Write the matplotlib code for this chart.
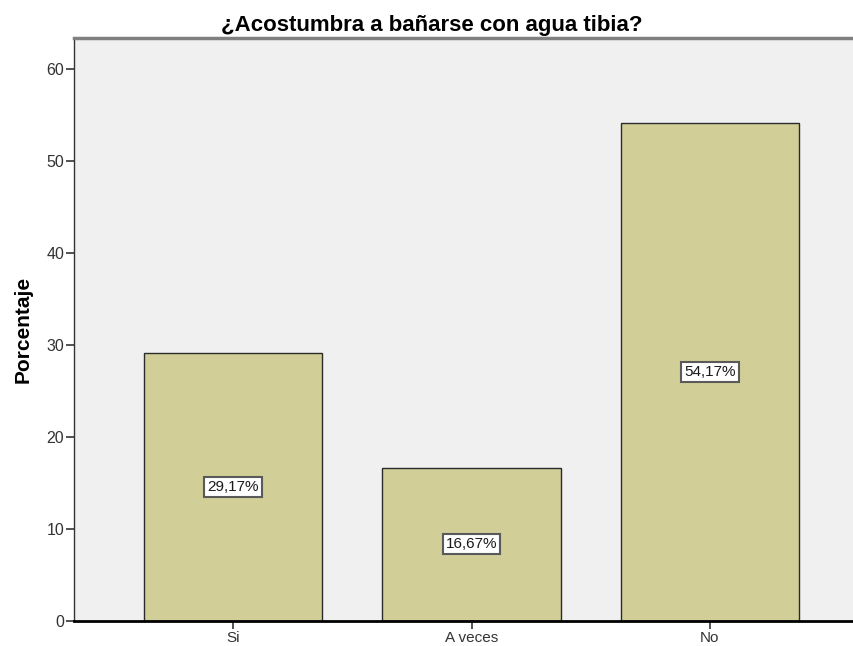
import matplotlib
matplotlib.use("Agg")
import matplotlib.pyplot as plt

categories = ["Si", "A veces", "No"]
percentages = [29.17, 16.67, 54.17]
yticks = [0, 10, 20, 30, 40, 50, 60]

plt.rcParams["font.family"] = ["Liberation Sans", "DejaVu Sans"]

fig = plt.figure(figsize=(8.54, 6.46), dpi=100)
ax = fig.add_axes([0.0867, 0.0387, 0.931, 0.9025])
ax.set_facecolor("#F0F0F0")

x = list(range(len(categories)))
ax.bar(x, percentages, width=0.748, color="#D2CE98", edgecolor="#2b2b2b",
       linewidth=1.0, zorder=2)

for xi, v in zip(x, percentages):
    ax.text(xi, v / 2, f"{v:.2f}%".replace(".", ","), ha="center", va="center",
            fontsize=11, color="#1a1a1a", zorder=4,
            bbox=dict(boxstyle="square,pad=0.2", facecolor="white",
                      edgecolor="#5a5a5a", linewidth=1.5))

ax.set_xlim(-0.668, 2.668)
ax.set_ylim(0, 63.4)
ax.set_xticks(x)
ax.set_xticklabels(categories)
ax.set_yticks(yticks)

ax.tick_params(axis="both", direction="out", length=6, width=1.2,
               labelsize=11.5, colors="#333333", labelcolor="#333333")
ax.tick_params(axis="x", pad=1, labelsize=11)
ax.tick_params(axis="y", pad=1)

ax.spines["right"].set_visible(False)
ax.spines["top"].set_color("#808080")
ax.spines["top"].set_linewidth(2.5)
ax.spines["left"].set_color("#333333")
ax.spines["left"].set_linewidth(1.0)
ax.spines["bottom"].set_color("#000000")
ax.spines["bottom"].set_linewidth(2.0)

ax.set_ylabel("Porcentaje", fontsize=15, fontweight="bold", labelpad=10)
fig.text(0.505, 0.96, "¿Acostumbra a bañarse con agua tibia?", ha="center",
         va="center", fontsize=16, fontweight="bold")

fig.savefig("out.png", dpi=100)
